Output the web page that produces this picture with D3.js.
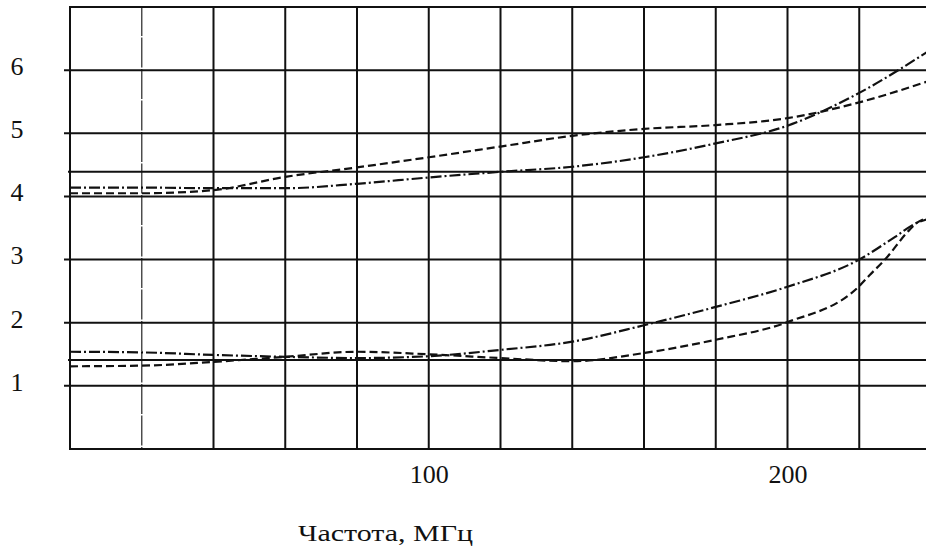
<!DOCTYPE html>
<html>
<head>
  <meta charset="utf-8">
  <title>Частота, МГц</title>
  <script src="https://d3js.org/d3.v7.min.js"></script>
  <style>
    body { margin: 0; background: #fff; }
    svg { display: block; }
    .tick text { font-family: "Liberation Serif", "DejaVu Serif", serif; font-size: 26px; fill: #111; }
    .title { font-family: "Liberation Serif", "DejaVu Serif", serif; font-size: 24px; fill: #111; }
    .grid line { stroke: #111; stroke-width: 2px; }
    .curve { fill: none; stroke: #111; stroke-width: 2.2px; }
  </style>
</head>
<body>
  <svg width="926" height="550"></svg>
  <script>
    // grid positions (MHz and ordinate values)
    const freqGrid = [0, 20, 40, 60, 80, 100, 120, 140, 160, 180, 200, 220, 240];
    const valueGrid = [0, 1, 2, 3, 4, 5, 6, 7];
    const extraLines = [1.41, 4.39];
    const xTicks = [100, 200];
    const yTicks = [1, 2, 3, 4, 5, 6];

    // curves
    const upperDashedF = [0, 20, 40, 60, 80, 100, 120, 140, 160, 180, 200, 220, 239];
    const upperDashedV = [4.05, 4.05, 4.10, 4.31, 4.46, 4.62, 4.79, 4.96, 5.07, 5.13, 5.24, 5.49, 5.82];

    const upperDashDotF = [0, 20, 40, 60, 80, 100, 120, 140, 160, 180, 200, 220, 239];
    const upperDashDotV = [4.14, 4.14, 4.13, 4.13, 4.20, 4.30, 4.39, 4.47, 4.62, 4.84, 5.12, 5.64, 6.29];

    const lowerDashDotF = [0, 20, 40, 60, 80, 100, 120, 140, 160, 180, 200, 220, 230, 236, 239];
    const lowerDashDotV = [1.54, 1.53, 1.49, 1.46, 1.44, 1.47, 1.57, 1.70, 1.96, 2.25, 2.57, 3.00, 3.36, 3.58, 3.64];

    const lowerDashedF = [0, 20, 40, 60, 80, 100, 120, 140, 160, 180, 200, 220, 223, 227, 234, 236, 239];
    const lowerDashedV = [1.31, 1.32, 1.38, 1.46, 1.54, 1.50, 1.44, 1.39, 1.52, 1.73, 2.01, 2.58, 2.76, 2.99, 3.47, 3.58, 3.66];

    const svg = d3.select("svg");
    const x = d3.scaleLinear().domain([0, 240]).range([70, 931]);
    const y = d3.scaleLinear().domain([0, 7]).range([449, 7]);

    // grid
    const grid = svg.append("g").attr("class", "grid");
    grid.selectAll("line.v")
      .data(freqGrid)
      .enter().append("line")
      .attr("class", "v")
      .attr("x1", d => x(d)).attr("x2", d => x(d))
      .attr("y1", y(7) - 1).attr("y2", y(0) + 1)
      .style("stroke", d => d === 20 ? "#444" : null)
      .style("stroke-width", d => d === 20 ? 1.4 : null)
      .style("stroke-dasharray", d => d === 20 ? "30,1.5" : null);

    grid.selectAll("line.h")
      .data(valueGrid)
      .enter().append("line")
      .attr("class", "h")
      .attr("x1", d => (d === 0 || d === 7) ? x(0) : x(0) - 6)
      .attr("x2", x(240))
      .attr("y1", d => y(d)).attr("y2", d => y(d));

    grid.selectAll("line.e")
      .data(extraLines)
      .enter().append("line")
      .attr("class", "e")
      .attr("x1", x(0) - 2).attr("x2", x(240))
      .attr("y1", d => y(d)).attr("y2", d => y(d));

    // axis labels
    const xAxis = d3.axisBottom(x).tickValues(xTicks).tickSize(0).tickPadding(16).tickFormat(d3.format("d"));
    svg.append("g")
      .attr("transform", `translate(0,${y(0)})`)
      .call(xAxis)
      .call(g => g.select(".domain").remove());

    const yAxis = d3.axisLeft(y).tickValues(yTicks).tickSize(0).tickPadding(0).tickFormat(d3.format("d"));
    svg.append("g")
      .attr("transform", "translate(22,-4)")
      .call(yAxis)
      .call(g => g.select(".domain").remove())
      .call(g => g.selectAll("text").attr("text-anchor", "middle").attr("x", -5));

    svg.append("text")
      .attr("class", "title")
      .attr("x", 298)
      .attr("y", 541)
      .attr("textLength", 175)
      .attr("lengthAdjust", "spacingAndGlyphs")
      .text("Частота, МГц");

    // curves
    const line = d3.line()
      .x(d => x(d[0]))
      .y(d => y(d[1]))
      .curve(d3.curveMonotoneX);

    const series = [
      { f: upperDashedF, v: upperDashedV, dash: "8,4" },
      { f: upperDashDotF, v: upperDashDotV, dash: "11,3,2,3" },
      { f: lowerDashDotF, v: lowerDashDotV, dash: "11,3,2,3" },
      { f: lowerDashedF, v: lowerDashedV, dash: "8,4" }
    ];

    svg.append("g")
      .selectAll("path")
      .data(series)
      .enter().append("path")
      .attr("class", "curve")
      .attr("stroke-dasharray", d => d.dash)
      .attr("d", d => line(d.f.map((f, i) => [f, d.v[i]])));
  </script>
</body>
</html>
